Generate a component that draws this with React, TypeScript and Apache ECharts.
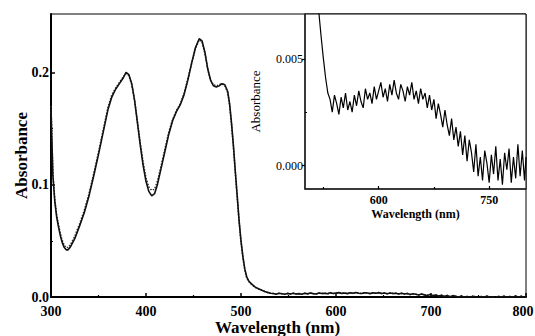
import React, { useEffect, useRef } from "react";
import * as echarts from "echarts";

// Main spectrum (solid and dotted traces), wavelengths in nm
const mainWavelengths = [
  300, 302, 304, 306, 308, 310, 312, 314, 316, 318,
  320, 325, 330, 335, 340, 345, 350, 355, 360, 364,
  368, 372, 376, 379, 382, 385, 388, 391, 394, 397,
  400, 403, 406, 409, 412, 416, 420, 424, 428, 432,
  436, 440, 444, 448, 452, 456, 459, 462, 465, 468,
  471, 474, 477, 480, 483, 486, 488, 490, 492, 494,
  496, 498, 500, 502, 504, 506, 508, 510, 512, 515,
  519, 522, 525, 528, 531,
];
const mainSolid = [
  0.168, 0.108, 0.085, 0.071, 0.062, 0.054, 0.048, 0.044, 0.042, 0.042,
  0.044, 0.052, 0.063, 0.075, 0.090, 0.108, 0.127, 0.147, 0.167, 0.178,
  0.185, 0.190, 0.195, 0.200, 0.198, 0.190, 0.175, 0.155, 0.135, 0.117,
  0.103, 0.094, 0.090, 0.092, 0.100, 0.115, 0.130, 0.145, 0.157, 0.165,
  0.171, 0.180, 0.193, 0.208, 0.222, 0.230, 0.228, 0.218, 0.203, 0.193,
  0.188, 0.187, 0.188, 0.190, 0.189, 0.183, 0.172, 0.155, 0.135, 0.112,
  0.090, 0.068, 0.050, 0.036, 0.025, 0.018, 0.0145, 0.0125, 0.011, 0.0088,
  0.0071, 0.006, 0.005, 0.0041, 0.0034,
];
const mainDotted = [
  0.170, 0.110, 0.087, 0.073, 0.064, 0.056, 0.050, 0.046, 0.044, 0.044,
  0.046, 0.054, 0.065, 0.077, 0.092, 0.110, 0.129, 0.149, 0.169, 0.180,
  0.186, 0.191, 0.196, 0.199, 0.197, 0.189, 0.175, 0.156, 0.137, 0.120,
  0.106, 0.098, 0.095, 0.096, 0.103, 0.117, 0.132, 0.147, 0.158, 0.166,
  0.172, 0.181, 0.194, 0.208, 0.221, 0.229, 0.227, 0.217, 0.203, 0.193,
  0.189, 0.188, 0.189, 0.190, 0.188, 0.182, 0.171, 0.154, 0.134, 0.111,
  0.089, 0.067, 0.049, 0.035, 0.024, 0.017, 0.014, 0.012, 0.0105, 0.0085,
  0.007, 0.0059, 0.0049, 0.004, 0.0033,
];

// Noisy tail
const tailWavelengths = [
  534, 537, 540, 543, 546, 549, 552, 555, 558, 561,
  564, 567, 570, 573, 576, 579, 582, 585, 588, 591,
  594, 597, 600, 603, 606, 609, 612, 615, 618, 621,
  624, 627, 630, 633, 636, 639, 642, 645, 648, 651,
  654, 657, 660, 663, 666, 669, 672, 675, 678, 681,
  684, 687, 690, 693, 696, 699, 702, 705, 708, 711,
  714, 717, 720, 723, 726, 729, 732, 735, 738, 741,
  744, 747, 750, 753, 756, 759, 762, 765, 768, 771,
  774, 777, 780, 783, 786, 789, 792, 795, 798, 800,
];
const tailAbs = [
  0.0031, 0.0025, 0.0033, 0.0029, 0.0024, 0.0032, 0.0027, 0.0034, 0.0026, 0.0030,
  0.0025, 0.0033, 0.0028, 0.0035, 0.0030, 0.0027, 0.0036, 0.0031, 0.0034, 0.0029,
  0.0037, 0.0031, 0.0035, 0.0039, 0.0032, 0.0036, 0.0030, 0.0038, 0.0033, 0.0040,
  0.0034, 0.0031, 0.0038, 0.0035, 0.0030, 0.0037, 0.0033, 0.0039, 0.0031, 0.0035,
  0.0029, 0.0036, 0.0031, 0.0034, 0.0027, 0.0033, 0.0026, 0.0031, 0.0022, 0.0029,
  0.0024, 0.0018, 0.0026, 0.0019, 0.0014, 0.0022, 0.0012, 0.0018, 0.0009, 0.0016,
  0.0005, 0.0014, 0.0002, 0.0012, 0.0006, -0.0003, 0.0010, -0.0005, 0.0004, -0.0007,
  0.0007, 0.0001, -0.0008, 0.0005, -0.0004, 0.0009, -0.0007, 0.0003, -0.0009, 0.0006,
  -0.0002, 0.0008, -0.0008, 0.0004, -0.0006, 0.0010, -0.0005, 0.0007, -0.0007, 0.0004,
];

const mainXTicks = [300, 400, 500, 600, 700, 800];
const mainYTicks = [0, 0.1, 0.2];
const mainYMinor = [0.05, 0.15];
const insetXTicks = [600, 750];
const insetXMinor = [525, 675];
const insetYTicks = [0, 0.005];
const insetYMinor = [0.0025];

const FONT = "'Liberation Serif', 'DejaVu Serif', serif";

const zip = (xs: number[], ys: number[]) => xs.map((x, i) => [x, ys[i]]);

export default function App() {
  const ref = useRef<HTMLDivElement>(null);
  useEffect(() => {
    if (!ref.current) return;
    const chart = echarts.init(ref.current, undefined, { renderer: "svg" });
    const solidData = zip(mainWavelengths, mainSolid).concat(zip(tailWavelengths, tailAbs));
    const dottedData = zip(mainWavelengths, mainDotted).concat(zip(tailWavelengths, tailAbs));
    const insetData = zip(mainWavelengths, mainSolid)
      .filter((p) => p[0] >= 496)
      .concat(zip(tailWavelengths, tailAbs));

    const black = "#000";
    const boldLabel = { color: black, fontFamily: FONT, fontWeight: "bold", fontSize: 14 };
    const option: any = {
      animation: false,
      backgroundColor: "#fff",
      grid: [
        {
          left: 51, top: 14, right: 9, bottom: 39, show: true, borderColor: black, borderWidth: 1,
          backgroundColor: "transparent", outerBoundsMode: "none", containLabel: false,
        },
        {
          left: 305, top: 14, right: 9, bottom: 147, show: true, borderColor: black, borderWidth: 1,
          backgroundColor: "#fff", outerBoundsMode: "none", containLabel: false,
        },
      ],
      xAxis: [
        {
          type: "value", gridIndex: 0, position: "bottom", min: 300, max: 800, interval: 100,
          axisLine: { onZero: false, lineStyle: { color: black, width: 2 } },
          axisTick: { inside: true, length: 4, lineStyle: { color: black, width: 1.5 } },
          minorTick: { show: true, splitNumber: 2, length: 2, lineStyle: { color: black, width: 1.2 } },
          splitLine: { show: false },
          axisLabel: {
            customValues: mainXTicks, ...boldLabel, margin: 7,
            formatter: (v: number) => (v === 800 ? `{r|${v}}` : `${v}`),
            rich: { r: { ...boldLabel, padding: [0, 6, 0, 0] } },
          },
          name: "Wavelength (nm)", nameLocation: "middle", nameGap: 22, nameMoveOverlap: false,
          nameTextStyle: { color: black, fontFamily: FONT, fontWeight: "bold", fontSize: 17, padding: [0, 22, 0, 0] },
        },
        {
          type: "value", gridIndex: 1, position: "bottom", min: 500, max: 800,
          axisLine: { onZero: false, lineStyle: { color: "#222", width: 1.5 } },
          axisTick: { customValues: insetXTicks, inside: true, length: 3, lineStyle: { color: black, width: 1.2 } },
          splitLine: { show: false },
          axisLabel: {
            customValues: insetXTicks, color: black, fontFamily: FONT, fontWeight: "bold", fontSize: 12, margin: 5,
          },
          name: "Wavelength (nm)", nameLocation: "middle", nameGap: 19, nameMoveOverlap: false,
          nameTextStyle: { color: black, fontFamily: FONT, fontWeight: "bold", fontSize: 12 },
        },
        {
          type: "value", gridIndex: 1, position: "bottom", offset: 0, min: 500, max: 800,
          axisLine: { show: false, onZero: false },
          axisTick: { customValues: insetXMinor, inside: true, length: 2, lineStyle: { color: black, width: 1.2 } },
          splitLine: { show: false },
          axisLabel: { show: false },
        },
      ],
      yAxis: [
        {
          type: "value", gridIndex: 0, position: "left", min: 0, max: 0.252,
          axisLine: { onZero: false, lineStyle: { color: black, width: 2 } },
          axisTick: { customValues: mainYTicks, inside: true, length: 4, lineStyle: { color: black, width: 1.5 } },
          splitLine: { show: false },
          axisLabel: {
            customValues: mainYTicks, formatter: (v: number) => v.toFixed(1), ...boldLabel, margin: 2,
          },
          name: "Absorbance", nameLocation: "middle", nameGap: 21, nameMoveOverlap: false,
          nameTextStyle: { color: black, fontFamily: FONT, fontWeight: "bold", fontSize: 17 },
        },
        {
          type: "value", gridIndex: 0, position: "left", offset: 0, min: 0, max: 0.252,
          axisLine: { show: false, onZero: false },
          axisTick: { customValues: mainYMinor, inside: true, length: 2, lineStyle: { color: black, width: 1.2 } },
          splitLine: { show: false },
          axisLabel: { show: false },
        },
        {
          type: "value", gridIndex: 1, position: "left", min: -0.0011, max: 0.0071,
          axisLine: { onZero: false, lineStyle: { color: "#222", width: 1.5 } },
          axisTick: { customValues: insetYTicks, inside: false, length: 3, lineStyle: { color: black, width: 1.2 } },
          splitLine: { show: false },
          axisLabel: {
            customValues: insetYTicks, formatter: (v: number) => v.toFixed(3),
            color: black, fontFamily: FONT, fontSize: 12, margin: 2,
          },
          name: "Absorbance", nameLocation: "middle", nameGap: 43, nameMoveOverlap: false,
          nameTextStyle: { color: black, fontFamily: FONT, fontSize: 13 },
        },
        {
          type: "value", gridIndex: 1, position: "left", offset: 0, min: -0.0011, max: 0.0071,
          axisLine: { show: false, onZero: false },
          axisTick: { customValues: insetYMinor, inside: true, length: 2, lineStyle: { color: black, width: 1.2 } },
          splitLine: { show: false },
          axisLabel: { show: false },
        },
      ],
      series: [
        {
          type: "line", xAxisIndex: 0, yAxisIndex: 0, data: solidData, showSymbol: false, smooth: false,
          lineStyle: { color: "#111", width: 1.6 }, z: 3,
        },
        {
          type: "line", xAxisIndex: 0, yAxisIndex: 0, data: dottedData, showSymbol: false,
          lineStyle: { color: "#333", width: 1.5, type: "dotted" }, z: 2,
        },
        {
          type: "line", xAxisIndex: 1, yAxisIndex: 2, data: insetData, showSymbol: false, clip: true,
          lineStyle: { color: "#000", width: 1.2 }, z: 4,
        },
      ],
    };
    chart.setOption(option);
    return () => chart.dispose();
  }, []);
  return (
    <div
      ref={ref}
      style={{ position: "absolute", left: 0, top: 0, width: 535, height: 336, background: "#fff" }}
    />
  );
}
